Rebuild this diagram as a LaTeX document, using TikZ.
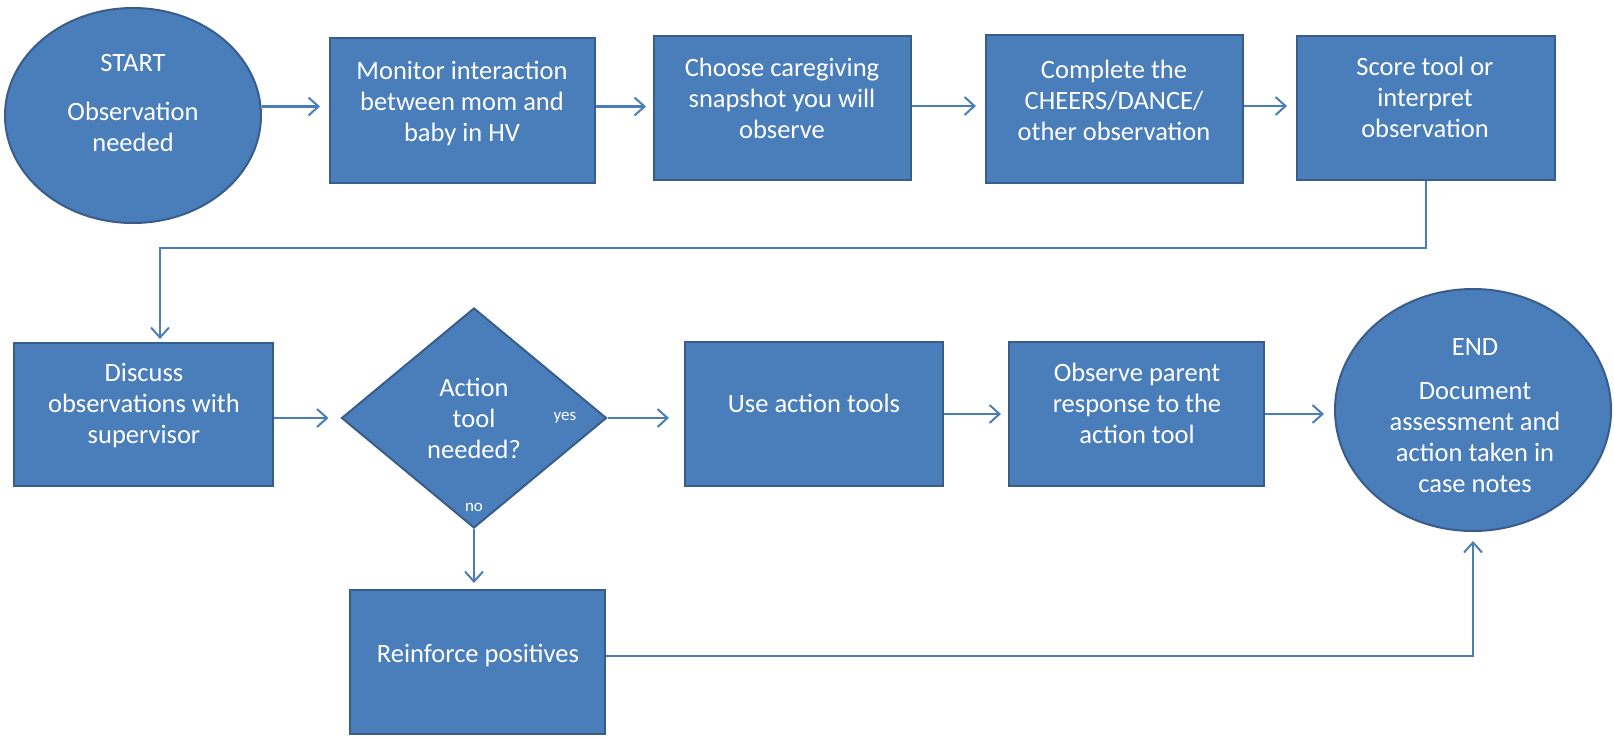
\documentclass[tikz,border=0pt]{standalone}
\usepackage{fontspec}
\setmainfont{Carlito}
\usetikzlibrary{shapes.geometric,arrows.meta}
\definecolor{boxfill}{HTML}{4A7EBB}
\definecolor{boxline}{HTML}{385D8A}
\definecolor{linkblue}{HTML}{4A7EBB}
\tikzset{
  stepbox/.style={rectangle, fill=boxfill, draw=boxline, line width=2pt, inner sep=0pt},
  termshape/.style={ellipse, fill=boxfill, draw=boxline, line width=2pt, inner sep=0pt},
  decision/.style={diamond, fill=boxfill, draw=boxline, line width=2pt, inner sep=0pt},
  txt/.style={text=white, align=center, font=\fontsize{26.5}{31}\selectfont, inner sep=0pt},
  smalltxt/.style={text=white, font=\fontsize{17}{20}\selectfont, inner sep=0pt},
  conn/.style={draw=linkblue, line width=2.2pt,
    -{Straight Barb[length=10pt,width=18pt,line width=2pt]}, shorten >=9pt},
}
\begin{document}
\begin{tikzpicture}[x=1pt,y=-1pt]
  \useasboundingbox (0,0) rectangle (1614,739);
  \fill[white] (0,0) rectangle (1614,739);

  % top row
  \node[termshape, minimum width=256pt, minimum height=215pt] (start) at (133,115.5) {};
  \node[stepbox, minimum width=265pt, minimum height=145pt] (monitor) at (462.5,110.5) {};
  \node[stepbox, minimum width=257pt, minimum height=144pt] (choose) at (782.5,108) {};
  \node[stepbox, minimum width=257pt, minimum height=148pt] (complete) at (1114.5,109) {};
  \node[stepbox, minimum width=258pt, minimum height=144pt] (score) at (1426,108) {};

  % middle row
  \node[stepbox, minimum width=259pt, minimum height=143pt] (discuss) at (143.5,414.5) {};
  \node[decision, minimum width=265pt, minimum height=220pt] (dia) at (474,418) {};
  \node[stepbox, minimum width=258pt, minimum height=144pt] (use) at (814,414) {};
  \node[stepbox, minimum width=255pt, minimum height=144pt] (observe) at (1136.5,414) {};
  \node[termshape, minimum width=276pt, minimum height=242pt] (endc) at (1473,410) {};

  % bottom row
  \node[stepbox, minimum width=255pt, minimum height=144pt] (reinf) at (477.5,662) {};

  % labels
  \node[txt] (tstart) at (133,103) {START\\[18pt]Observation\\needed};
  \node[txt] (tmonitor) at (462,103) {Monitor interaction\\between mom and\\baby in HV};
  \node[txt] (tchoose) at (782,98.5) {Choose caregiving\\snapshot you will\\observe};
  \node[txt] (tcomplete) at (1114,100) {Complete the\\CHEERS/DANCE/\\other observation};
  \node[txt] (tscore) at (1425,97) {Score tool or\\interpret\\observation};
  \node[txt] (tdiscuss) at (144,405.5) {Discuss\\observations with\\supervisor};
  \node[txt] (tdia) at (474,418) {Action\\tool\\needed?};
  \node[smalltxt] (tyes) at (565,418) {yes};
  \node[smalltxt] (tno) at (474,507) {no};
  \node[txt] (tuse) at (814,403) {Use action tools};
  \node[txt] (tobserve) at (1137,403) {Observe parent\\response to the\\action tool};
  \node[txt] (tend) at (1475,416) {END\\[13pt]Document\\assessment and\\action taken in\\case notes};
  \node[txt] (treinf) at (478,655) {Reinforce positives};

  % connectors
  \coordinate (bend) at (160,248);
  \coordinate (inmon) at ([yshift=4pt]monitor.west);
  \coordinate (outmon) at ([yshift=4pt]monitor.east);
  \coordinate (outcho) at ([yshift=2pt]choose.east);
  \coordinate (outcom) at ([yshift=3pt]complete.east);
  \draw[conn] (start.east |- inmon) -- (inmon);
  \draw[conn, shorten >=7pt] (outmon) -- (outmon -| choose.west);
  \draw[conn] (outcho) -- (outcho -| complete.west);
  \draw[conn] (outcom) -- (outcom -| score.west);
  \draw[conn, shorten >=3pt] (score.south) |- (bend) -- (bend |- discuss.north);
  \draw[conn, shorten >=12pt] (discuss.east |- dia.west) -- (dia.west);
  \draw[conn, shorten >=15pt] (dia.east) -- (dia.east -| use.west);
  \draw[conn, shorten >=7pt] (use.east) -- (use.east -| observe.west);
  \draw[conn, shorten >=10pt] (observe.east) -- (observe.east -| endc.west);
  \draw[conn, shorten >=6pt] (dia.south) -- (dia.south |- reinf.north);
  \draw[conn] ([yshift=6pt]reinf.east) -| (endc.south);
\end{tikzpicture}
\end{document}
